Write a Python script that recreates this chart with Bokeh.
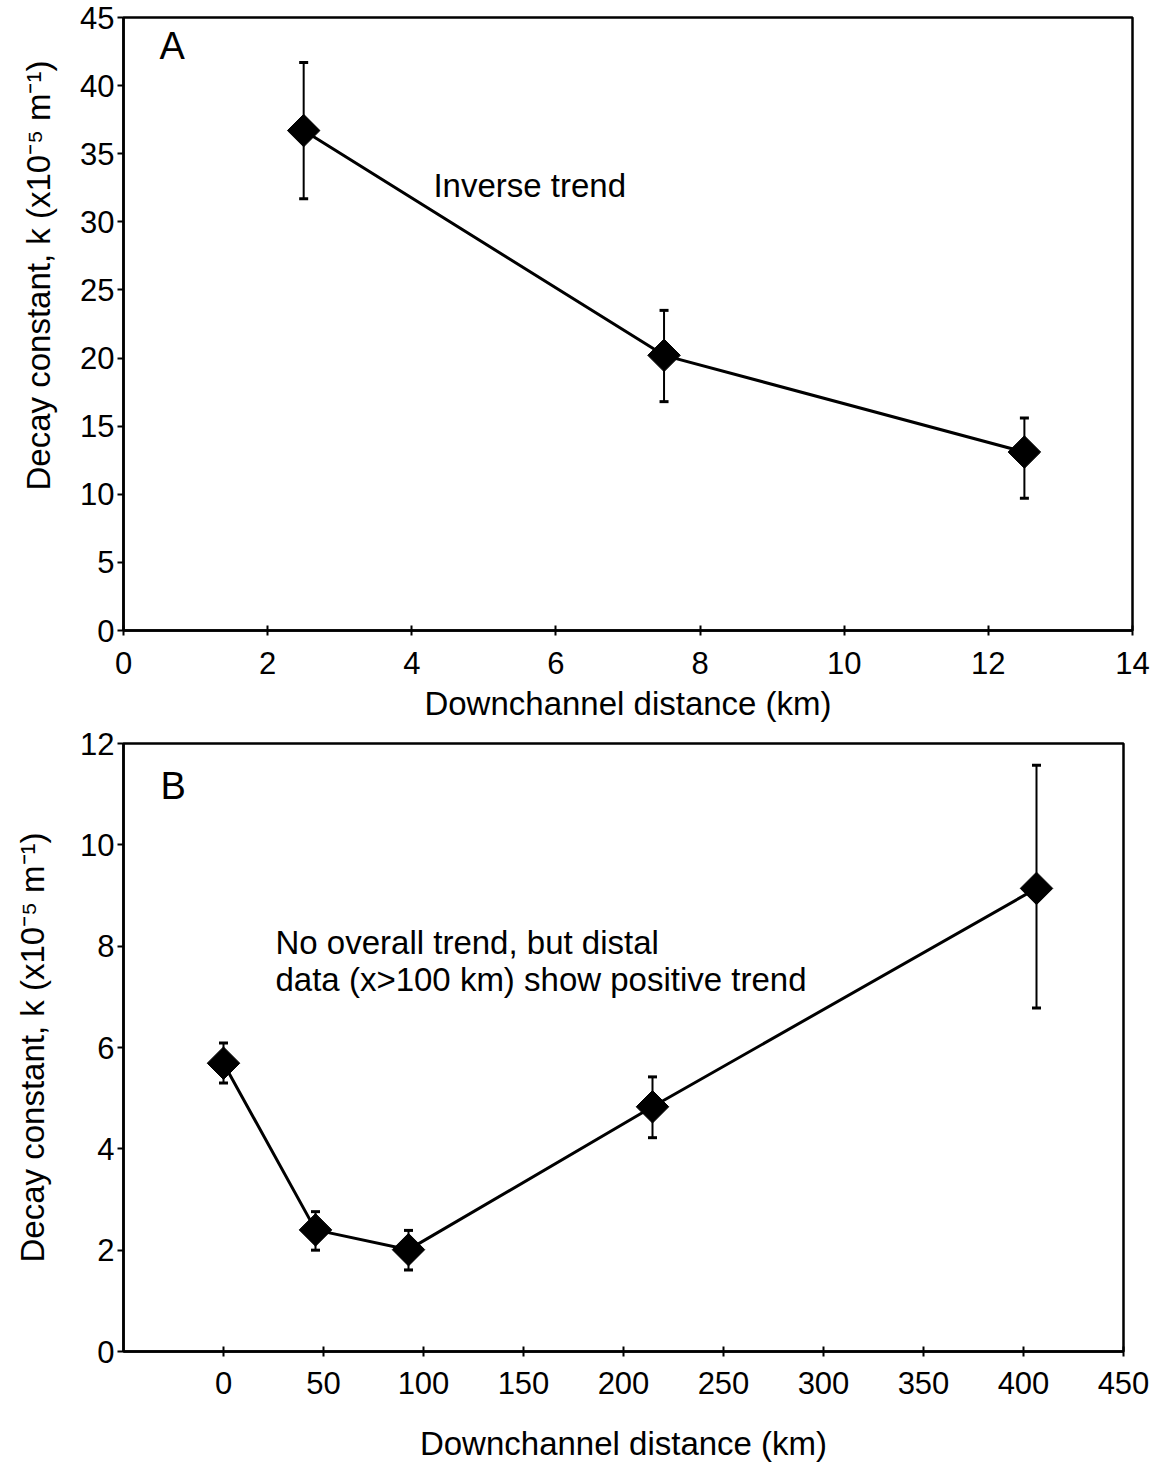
import numpy as np
from bokeh.plotting import figure
from bokeh.models import Whisker, ColumnDataSource, FixedTicker, Range1d, TeeHead, Label, Title
from bokeh.layouts import column, row
from bokeh.embed import file_html
from bokeh.resources import INLINE

# ---------------- data ----------------
# Panel A
a_dist = [2.5, 7.5, 12.5]
a_k = [36.7, 20.2, 13.1]
a_upper = [41.7, 23.5, 15.6]
a_lower = [31.7, 16.8, 9.7]
a_xticks = [0, 2, 4, 6, 8, 10, 12, 14]
a_yticks = [0, 5, 10, 15, 20, 25, 30, 35, 40, 45]

# Panel B
b_dist = [0, 46, 92.5, 214.5, 406.5]
b_k = [5.69, 2.40, 2.01, 4.83, 9.14]
b_upper = [6.09, 2.76, 2.39, 5.42, 11.57]
b_lower = [5.30, 2.00, 1.61, 4.22, 6.78]
b_xticks = [0, 50, 100, 150, 200, 250, 300, 350, 400, 450]
b_yticks = [0, 2, 4, 6, 8, 10, 12]

x_label = "Downchannel distance (km)"
y_label = "Decay constant, k (x10\u207b\u2075 m\u207b\u00b9)"

FONT = "Liberation Sans"


def style(p, xticks, yticks, xlab_standoff, xtick_standoff, ylab=True):
    p.xgrid.visible = False
    p.ygrid.visible = False
    p.outline_line_color = "black"
    p.outline_line_width = 2.5
    p.outline_line_alpha = 1.0
    p.background_fill_color = "white"
    p.border_fill_color = "white"
    for ax in (p.xaxis[0], p.yaxis[0]):
        ax.axis_line_color = "black"
        ax.axis_line_width = 2.5
        ax.major_tick_line_color = "black"
        ax.major_tick_line_width = 2
        ax.minor_tick_line_color = None
        ax.major_label_text_font = FONT
        ax.major_label_text_font_size = "31px"
        ax.major_label_text_color = "black"
        ax.axis_label_text_font = FONT
        ax.axis_label_text_font_size = "33px"
        ax.axis_label_text_font_style = "normal"
        ax.axis_label_text_color = "black"
    xa = p.xaxis[0]
    xa.ticker = FixedTicker(ticks=xticks)
    xa.major_tick_in = 5
    xa.major_tick_out = 5
    xa.major_label_standoff = xtick_standoff
    xa.axis_label = x_label
    xa.axis_label_standoff = xlab_standoff
    ya = p.yaxis[0]
    ya.ticker = FixedTicker(ticks=yticks)
    ya.major_tick_in = 0
    ya.major_tick_out = 6
    ya.major_label_standoff = 3
    if ylab:
        ya.axis_label = y_label
        ya.axis_label_standoff = 26


def draw(p, xs, ks, up, lo):
    src = ColumnDataSource(dict(x=xs, k=ks, upper=up, lower=lo))
    w = Whisker(base="x", upper="upper", lower="lower", source=src,
                line_color="black", line_width=2,
                upper_head=TeeHead(size=9, line_width=3, line_color="black"),
                lower_head=TeeHead(size=9, line_width=3, line_color="black"))
    p.add_layout(w)
    p.line("x", "k", source=src, line_color="black", line_width=3)
    p.scatter("x", "k", source=src, marker="square", angle=np.pi / 4, size=23,
              fill_color="black", line_color="black")


# ---------------- panel A ----------------
pA = figure(width=1163, height=724, output_backend="svg", toolbar_location=None,
            x_range=Range1d(0, 14), y_range=Range1d(0, 45),
            min_border_left=123, min_border_right=31,
            min_border_top=17, min_border_bottom=93)
style(pA, a_xticks, a_yticks, xlab_standoff=8, xtick_standoff=16, ylab=False)
draw(pA, a_dist, a_k, a_upper, a_lower)
pA.add_layout(Title(text=y_label, align="left", offset=140, vertical_align="top",
                    text_font=FONT, text_font_size="33px", text_font_style="normal",
                    text_color="black", standoff=38), "left")
pA.add_layout(Label(x=0.5, y=42.9, text="A", text_font=FONT, text_font_size="38px",
                    text_baseline="middle", text_align="left", text_color="black"))
pA.add_layout(Label(x=4.3, y=32.7, text="Inverse trend", text_font=FONT,
                    text_font_size="33px", text_baseline="middle", text_align="left",
                    text_color="black"))

# ---------------- panel B ----------------
pB = figure(width=1163, height=740, output_backend="svg", toolbar_location=None,
            x_range=Range1d(-50, 450), y_range=Range1d(0, 12),
            min_border_left=123, min_border_right=40,
            min_border_top=19, min_border_bottom=112)
style(pB, b_xticks, b_yticks, xlab_standoff=28, xtick_standoff=15)
draw(pB, b_dist, b_k, b_upper, b_lower)
pB.add_layout(Label(x=-31.5, y=11.17, text="B", text_font=FONT, text_font_size="38px",
                    text_baseline="middle", text_align="left", text_color="black"))
pB.add_layout(Label(x=26, y=8.08, text="No overall trend, but distal", text_font=FONT,
                    text_font_size="33px", text_baseline="middle", text_align="left",
                    text_color="black"))
pB.add_layout(Label(x=26, y=7.35, text="data (x>100 km) show positive trend", text_font=FONT,
                    text_font_size="33px", text_baseline="middle", text_align="left",
                    text_color="black"))

layout = column(row(pA), row(pB), spacing=0)
open("out.html", "w").write(file_html(layout, INLINE))
